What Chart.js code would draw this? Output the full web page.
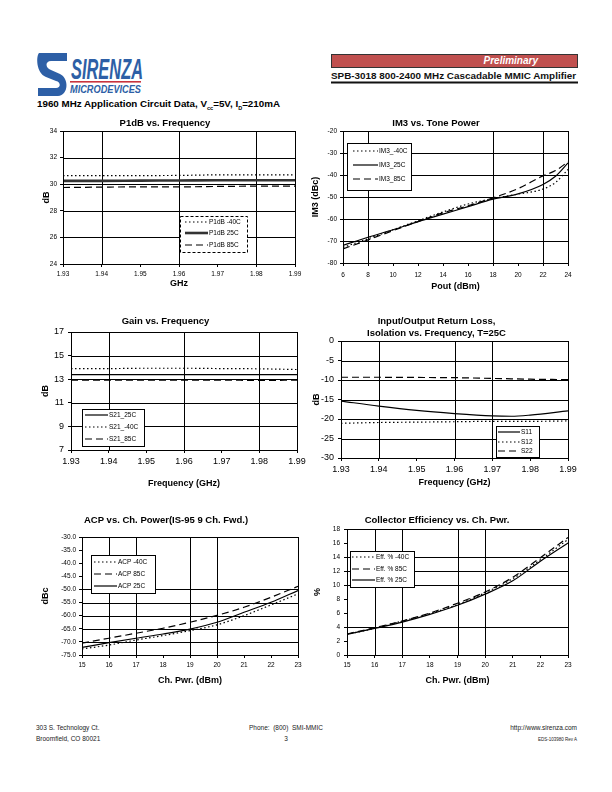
<!DOCTYPE html>
<html>
<head>
<meta charset="utf-8">
<script src="https://cdn.jsdelivr.net/npm/chart.js@4.4.0/dist/chart.umd.min.js"></script>
<style>
  body { margin: 0; width: 612px; height: 792px; background: #fff; position: relative; overflow: hidden;
         font-family: "Liberation Sans", Arial, sans-serif; color: #000; }
  .chart { position: absolute; }
  .txt { position: absolute; white-space: nowrap; }
  .foot { position: absolute; white-space: nowrap; font-size: 6.5px; color: #222; line-height: 11px; }
</style>
</head>
<body>

<!-- logo -->
<svg class="txt" style="left:36px;top:50px" width="112" height="48" viewBox="0 0 112 48">
  <path d="M3 3 H31 V11 H15 C9 11 9 18 15 20 L24 24 C33 28 33 45 22 46 H2 V38 H20 C25 38 25 32 20 31 L10 27 C0 23 0 6 3 3 Z" fill="#2d5fa6"/>
  <text x="35" y="29" font-family="Liberation Sans, Arial" font-style="italic" font-weight="bold" font-size="29" fill="#2d5fa6" textLength="72" lengthAdjust="spacingAndGlyphs">SIRENZA</text>
  <rect x="34" y="31" width="71" height="1.6" fill="#c8343e"/>
  <text x="34" y="43" font-family="Liberation Sans, Arial" font-style="italic" font-weight="bold" font-size="11" fill="#2d5fa6" textLength="71" lengthAdjust="spacingAndGlyphs">MICRODEVICES</text>
</svg>

<!-- header right -->
<div class="txt" style="left:331px;top:54px;width:245px;height:12px;background:#c0504f;border:1px solid #333;"></div>
<div class="txt" style="left:331px;top:54px;width:207px;height:14px;text-align:right;color:#fff;font-weight:bold;font-style:italic;font-size:10px;line-height:14px;">Preliminary</div>
<svg class="txt" style="left:330px;top:68px" width="250" height="18" viewBox="0 0 250 18">
  <text x="1" y="11" font-family="Liberation Sans, Arial" font-weight="bold" font-size="9.5" fill="#111" textLength="245" lengthAdjust="spacingAndGlyphs">SPB-3018  800-2400 MHz Cascadable MMIC Amplifier</text>
  <rect x="1" y="13.5" width="247" height="2" fill="#111"/>
</svg>

<div class="txt" style="left:37px;top:98px;font-weight:bold;font-size:9.8px;line-height:12px;">1960 MHz Application Circuit Data, V<sub style="font-size:5.5px">cc</sub>=5V, I<sub style="font-size:5.5px">D</sub>=210mA</div>

<!-- footer -->
<div class="foot" style="left:36px;top:722px;">303 S. Technology Ct.<br>Broomfield, CO 80021</div>
<div class="foot" style="left:226px;top:722px;width:120px;text-align:center;">Phone:&nbsp; (800)&nbsp; SMI-MMIC<br>3</div>
<div class="foot" style="left:457px;top:722px;width:120px;text-align:right;">http://www.sirenza.com<br><span style="font-size:4.5px">EDS-103980 Rev A</span></div>

<script>
// ---------- data ----------
// P1dB vs. Frequency
const p1dbFreq = [1.93, 1.94, 1.95, 1.96, 1.97, 1.98, 1.99];
const p1dbM40 = [30.65, 30.65, 30.65, 30.66, 30.7, 30.7, 30.7];
const p1db25 = [30.25, 30.25, 30.27, 30.28, 30.3, 30.3, 30.3];
const p1db85 = [29.75, 29.78, 29.8, 29.8, 29.83, 29.85, 29.85];

// IM3 vs. Tone Power
const im3Pout = [6, 8, 10, 12, 14, 16, 18, 20, 22, 23, 24];
const im3M40 = [-72.9, -69, -64.9, -60.8, -56.8, -53.2, -50.7, -48.7, -46.4, -43.4, -37.5];
const im325 = [-72, -68.3, -64.9, -61.2, -57.8, -54.4, -51, -48.6, -44.3, -40.6, -34.5];
const im385 = [-73.6, -69.5, -65.3, -61.2, -57.2, -54, -50.4, -46.2, -40.4, -38, -34];

// Gain vs. Frequency
const gainFreq = [1.93, 1.94, 1.95, 1.96, 1.97, 1.98, 1.99];
const s21_25 = [13.38, 13.38, 13.38, 13.38, 13.38, 13.38, 13.38];
const s21_m40 = [13.9, 13.9, 13.93, 13.93, 13.9, 13.88, 13.82];
const s21_85 = [12.92, 12.92, 12.92, 12.92, 12.92, 12.9, 12.92];

// Return loss / isolation, T=25C
const rlFreq = [1.93, 1.94, 1.95, 1.96, 1.97, 1.975, 1.98, 1.99];
const s11 = [-15.4, -16.7, -17.8, -18.6, -19.2, -19.3, -19, -17.9];
const s12 = [-21.1, -20.9, -20.8, -20.7, -20.6, -20.6, -20.6, -20.5];
const s22 = [-9.3, -9.3, -9.35, -9.4, -9.6, -9.7, -9.8, -9.9];

// ACP vs. Ch. Power
const acpPwr = [15, 16, 17, 18, 19, 20, 21, 22, 23];
const acpM40 = [-72.7, -71.2, -69.3, -67.6, -65.7, -63.5, -60, -55.9, -51.7];
const acp85 = [-70.5, -68.6, -66.7, -64.8, -62.5, -59.9, -56.8, -53, -48.8];
const acp25 = [-72.1, -70.3, -68.6, -67, -65.1, -62.5, -58.7, -54.9, -50.4];

// Collector efficiency vs. Ch. Pwr.
const effPwr = [15, 16, 17, 18, 19, 20, 21, 22, 23];
const effM40 = [2.95, 3.8, 4.85, 5.9, 7.2, 8.9, 10.9, 13.6, 16.5];
const eff85 = [3.0, 3.9, 4.85, 6.0, 7.4, 9.0, 11.1, 13.9, 16.8];
const eff25 = [2.95, 3.8, 4.7, 5.8, 7.1, 8.7, 10.6, 13.4, 16.0];

// ---------- styles ----------
const FONT = '"Liberation Sans", Arial, sans-serif';
const SOLID = [];
const DOT = [1.5, 2.5];
const DASH = [7, 4];

Chart.defaults.font.family = FONT;
Chart.defaults.color = '#000';

// only some of the tick values get a grid line, so draw them here
const gridSel = {
  id: 'gridSel',
  beforeDatasetsDraw(chart, args, o) {
    const a = chart.chartArea, c = chart.ctx;
    const xs = chart.scales.x, ys = chart.scales.y;
    c.save();
    c.strokeStyle = '#000';
    c.lineWidth = o.width || 1;
    c.setLineDash([]);
    c.beginPath();
    (o.x || []).forEach(v => {
      const p = Math.round(xs.getPixelForValue(v)) + 0.5;
      c.moveTo(p, a.top);
      c.lineTo(p, a.bottom);
    });
    (o.y || []).forEach(v => {
      const p = Math.round(ys.getPixelForValue(v)) + 0.5;
      c.moveTo(a.left, p);
      c.lineTo(a.right, p);
    });
    c.stroke();
    c.restore();
  }
};

// frame round the plot area
const plotFrame = {
  id: 'plotFrame',
  afterDatasetsDraw(chart) {
    const a = chart.chartArea, c = chart.ctx;
    c.save();
    c.strokeStyle = '#000';
    c.lineWidth = 1;
    c.setLineDash([]);
    c.strokeRect(Math.round(a.left) + 0.5, Math.round(a.top) + 0.5, Math.round(a.right - a.left), Math.round(a.bottom - a.top));
    c.restore();
  }
};

// boxed legend sitting inside the plot
const boxLegend = {
  id: 'boxLegend',
  afterDatasetsDraw(chart, args, o) {
    if (!o || !o.box) return;
    const c = chart.ctx;
    const [x, y, w, h] = o.box;
    c.save();
    c.fillStyle = '#fff';
    c.fillRect(x, y, w, h);
    c.strokeStyle = '#000';
    c.lineWidth = 1;
    c.setLineDash(o.dash || []);
    c.strokeRect(Math.round(x) + 0.5, Math.round(y) + 0.5, Math.round(w), Math.round(h));
    c.font = o.size + 'px ' + FONT;
    c.textBaseline = 'middle';
    c.fillStyle = '#000';
    chart.data.datasets.forEach((ds, i) => {
      const ry = o.rows[i];
      c.setLineDash(ds.borderDash || []);
      c.lineWidth = ds.borderWidth;
      c.strokeStyle = ds.borderColor;
      c.beginPath();
      c.moveTo(o.line[0], ry);
      c.lineTo(o.line[1], ry);
      c.stroke();
      c.fillText(ds.label, o.textX, ry);
    });
    c.restore();
  }
};

function makeChart(cfg) {
  const tSize = 9.5, tLH = 12, aSize = 9, aLH = 10.8;
  const titles = cfg.titleYs;
  const cl = cfg.yTitleX - 12;
  const ct = titles[0] - 8;
  const cr = cfg.R + 14;
  const cb = cfg.xTitleY + 8;
  const W = cr - cl, H = cb - ct;

  const div = document.createElement('div');
  div.className = 'chart';
  div.style.left = cl + 'px';
  div.style.top = ct + 'px';
  div.style.width = W + 'px';
  div.style.height = H + 'px';
  const cv = document.createElement('canvas');
  cv.width = W;
  cv.height = H;
  div.appendChild(cv);
  document.body.appendChild(div);

  const tickLH = cfg.tickSize * 1.2;
  const lg = cfg.legend;

  new Chart(cv, {
    type: 'line',
    data: {
      datasets: cfg.series.map(s => ({
        label: s.label,
        data: cfg.xs.map((x, i) => ({ x: x, y: s.values[i] })),
        borderColor: s.color || '#000',
        borderWidth: s.width || 1.2,
        borderDash: s.dash,
        pointRadius: 0,
        tension: 0.4,
        cubicInterpolationMode: 'monotone',
        fill: false
      }))
    },
    options: {
      responsive: false,
      animation: false,
      devicePixelRatio: 1,
      layout: { padding: { left: 0, top: 0, right: cr - cfg.R, bottom: 0 } },
      plugins: {
        legend: { display: false },
        tooltip: { enabled: false },
        title: {
          display: true,
          text: cfg.title,
          color: '#000',
          font: { size: tSize, weight: 'bold', lineHeight: tLH / tSize },
          padding: { top: 8 - tLH / 2, bottom: cfg.T - titles[titles.length - 1] - tLH / 2 }
        },
        gridSel: { x: cfg.x.grid, y: cfg.y.grid, width: 1 },
        boxLegend: {
          box: [lg.box[0] - cl, lg.box[1] - ct, lg.box[2], lg.box[3]],
          dash: lg.dash,
          rows: lg.rows.map(r => r - ct),
          line: [lg.line[0] - cl, lg.line[1] - cl],
          textX: lg.textX - cl,
          size: lg.size
        }
      },
      scales: {
        x: {
          type: 'linear',
          min: cfg.x.min, max: cfg.x.max,
          ticks: {
            stepSize: cfg.x.step,
            autoSkip: false, maxRotation: 0,
            font: { size: cfg.tickSize },
            padding: cfg.xTickY - cfg.B - 3 - tickLH / 2,
            callback: (v) => v.toFixed(cfg.x.dec)
          },
          grid: { drawOnChartArea: false, tickColor: '#000', tickLength: 3, lineWidth: 1 },
          border: { color: '#000', width: 1 },
          title: {
            display: true, text: cfg.x.title, color: '#000',
            font: { size: aSize, weight: 'bold', lineHeight: 1.2 },
            padding: { top: 0, bottom: 8 - aLH / 2 }
          },
          afterFit: (s) => { s.height = cb - cfg.B; }
        },
        y: {
          type: 'linear',
          min: cfg.y.min, max: cfg.y.max,
          ticks: {
            stepSize: cfg.y.step,
            autoSkip: false,
            font: { size: cfg.tickSize },
            padding: cfg.L - cfg.yTickRight - 3,
            callback: (v) => v.toFixed(cfg.y.dec)
          },
          grid: { drawOnChartArea: false, tickColor: '#000', tickLength: 3, lineWidth: 1 },
          border: { color: '#000', width: 1 },
          title: {
            display: true, text: cfg.y.title, color: '#000',
            font: { size: aSize, weight: 'bold', lineHeight: 1.2 },
            padding: { top: 12 - aLH / 2, bottom: 0 }
          },
          afterFit: (s) => { s.width = cfg.L - cl; }
        }
      }
    },
    plugins: [gridSel, plotFrame, boxLegend]
  });
}

// ---------- charts ----------
makeChart({
  title: 'P1dB vs. Frequency', titleYs: [123],
  L: 63, R: 295, T: 131, B: 264, xTickY: 274, xTitleY: 284, yTitleX: 47, yTickRight: 57, tickSize: 6.5,
  xs: p1dbFreq,
  series: [
    { label: 'P1dB -40C', values: p1dbM40, dash: DOT },
    { label: 'P1dB 25C', values: p1db25, dash: SOLID, width: 2.6, color: '#333' },
    { label: 'P1dB 85C', values: p1db85, dash: DASH }
  ],
  x: { min: 1.93, max: 1.99, step: 0.01, dec: 2, title: 'GHz', grid: [1.94, 1.96, 1.98] },
  y: { min: 24, max: 34, step: 2, dec: 0, title: 'dB', grid: [26, 28, 30, 32] },
  legend: { box: [180, 216, 67, 36], dash: [3, 2], rows: [222, 233, 245], line: [185, 208], textX: 209, size: 6.5 }
});

makeChart({
  title: 'IM3 vs. Tone Power', titleYs: [123],
  L: 343, R: 568, T: 131, B: 263, xTickY: 275, xTitleY: 287, yTitleX: 316, yTickRight: 337, tickSize: 6.5,
  xs: im3Pout,
  series: [
    { label: 'IM3_-40C', values: im3M40, dash: DOT },
    { label: 'IM3_25C', values: im325, dash: SOLID },
    { label: 'IM3_85C', values: im385, dash: DASH }
  ],
  x: { min: 6, max: 24, step: 2, dec: 0, title: 'Pout (dBm)', grid: [8, 18, 22] },
  y: { min: -80, max: -20, step: 10, dec: 0, title: 'IM3 (dBc)', grid: [-30, -40, -50, -60, -70] },
  legend: { box: [347, 143, 64, 47], dash: [], rows: [151, 165, 179], line: [353, 378], textX: 379, size: 6.5 }
});

makeChart({
  title: 'Gain vs. Frequency', titleYs: [321],
  L: 71, R: 297, T: 332, B: 450, xTickY: 462, xTitleY: 484, yTitleX: 46, yTickRight: 64, tickSize: 9,
  xs: gainFreq,
  series: [
    { label: 'S21_25C', values: s21_25, dash: SOLID },
    { label: 'S21_-40C', values: s21_m40, dash: DOT },
    { label: 'S21_85C', values: s21_85, dash: DASH }
  ],
  x: { min: 1.93, max: 1.99, step: 0.01, dec: 2, title: 'Frequency (GHz)', grid: [1.94, 1.96, 1.98] },
  y: { min: 7, max: 17, step: 2, dec: 0, title: 'dB', grid: [9, 11, 13, 15] },
  legend: { box: [82, 409, 62, 37], dash: [], rows: [415, 427, 439], line: [85, 108], textX: 109, size: 6.5 }
});

makeChart({
  title: ['Input/Output Return Loss,', 'Isolation vs. Frequency, T=25C'], titleYs: [321, 333],
  L: 341, R: 568, T: 341, B: 458, xTickY: 470, xTitleY: 483, yTitleX: 317, yTickRight: 334, tickSize: 9,
  xs: rlFreq,
  series: [
    { label: 'S11', values: s11, dash: SOLID },
    { label: 'S12', values: s12, dash: DOT },
    { label: 'S22', values: s22, dash: DASH }
  ],
  x: { min: 1.93, max: 1.99, step: 0.01, dec: 2, title: 'Frequency (GHz)', grid: [1.94, 1.96, 1.97] },
  y: { min: -30, max: 0, step: 5, dec: 0, title: 'dB', grid: [-5, -10, -15, -20, -25] },
  legend: { box: [496, 426, 43, 31], dash: [], rows: [432, 442, 451], line: [498, 520], textX: 521, size: 6.5 }
});

makeChart({
  title: 'ACP vs. Ch. Power(IS-95 9 Ch. Fwd.)', titleYs: [520],
  L: 82, R: 298, T: 537, B: 655, xTickY: 665, xTitleY: 681, yTitleX: 46, yTickRight: 76, tickSize: 6.5,
  xs: acpPwr,
  series: [
    { label: 'ACP -40C', values: acpM40, dash: DOT },
    { label: 'ACP 85C', values: acp85, dash: DASH },
    { label: 'ACP 25C', values: acp25, dash: SOLID }
  ],
  x: { min: 15, max: 23, step: 1, dec: 0, title: 'Ch. Pwr. (dBm)', grid: [16, 17, 19, 20] },
  y: { min: -75, max: -30, step: 5, dec: 1, title: 'dBc', grid: [-50, -55, -60, -65, -70] },
  legend: { box: [91, 555, 64, 38], dash: [], rows: [562, 574, 586], line: [94, 117], textX: 118, size: 6.5 }
});

makeChart({
  title: 'Collector Efficiency vs. Ch. Pwr.', titleYs: [520],
  L: 347, R: 568, T: 529, B: 655, xTickY: 665, xTitleY: 681, yTitleX: 318, yTickRight: 340, tickSize: 6.5,
  xs: effPwr,
  series: [
    { label: 'Eff. % -40C', values: effM40, dash: DOT },
    { label: 'Eff. % 85C', values: eff85, dash: DASH },
    { label: 'Eff. % 25C', values: eff25, dash: SOLID }
  ],
  x: { min: 15, max: 23, step: 1, dec: 0, title: 'Ch. Pwr. (dBm)', grid: [16, 17, 19, 20] },
  y: { min: 0, max: 18, step: 2, dec: 0, title: '%', grid: [4, 10, 12, 14] },
  legend: { box: [350, 551, 64, 36], dash: [], rows: [557, 569, 580], line: [352, 375], textX: 376, size: 6.5 }
});
</script>
</body>
</html>
